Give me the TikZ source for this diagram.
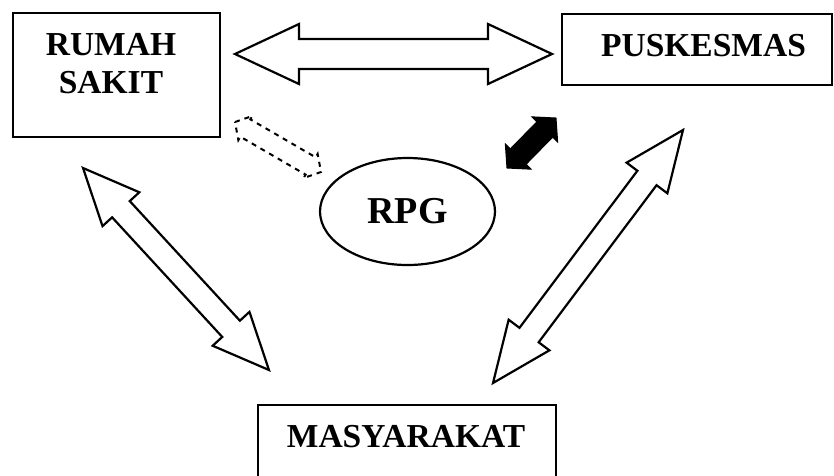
\documentclass[tikz,border=0pt]{standalone}
\usepackage{fontspec}
\setmainfont{Liberation Serif}
\usetikzlibrary{shapes.geometric}
% #1 style, (#2,#3) tip A, (#4,#5) tip B (pixel coords, y down), #6 shaft half width, #7 head half width, #8 head length
\newcommand\blockarrow[8]{%
  \pgfmathsetmacro\ardx{#4-#2}%
  \pgfmathsetmacro\ardy{#3-#5}%
  \pgfmathsetmacro\arlen{veclen(\ardx,\ardy)}%
  \pgfmathsetmacro\arang{atan2(\ardy,\ardx)}%
  \pgfmathsetmacro\arb{\arlen-#8}%
  \draw[#1,shift={(#2pt,-#3pt)},rotate=\arang]
    (0pt,0pt) -- (#8pt,#7pt) -- (#8pt,#6pt) -- (\arb pt,#6pt) -- (\arb pt,#7pt)
    -- (\arlen pt,0pt) -- (\arb pt,-#7pt) -- (\arb pt,-#6pt) -- (#8pt,-#6pt)
    -- (#8pt,-#7pt) -- cycle;}
\tikzset{
  box/.style={draw, line width=2.5pt, inner sep=0pt},
  lbl/.style={font=\fontsize{33.5}{38}\selectfont\bfseries, align=center, inner sep=0pt},
  hollow/.style={draw, line width=2.2pt, fill=white, line join=miter},
  solidarr/.style={draw=black, fill=black, line width=1pt},
  dasharr/.style={draw, line width=2pt, dash pattern=on 5pt off 5pt}
}
\begin{document}
\begin{tikzpicture}[x=1pt,y=-1pt]
\useasboundingbox (0,0) rectangle (834,475);
% boxes
\node[box, minimum width=207pt, minimum height=124pt] (rs) at (116.5,75) {};
\node[lbl] (rstext) at (111,64) {RUMAH\\SAKIT};
\node[box, minimum width=270pt, minimum height=71pt] (pk) at (697,49.5) {};
\node[lbl] (pktext) at (703.5,46) {PUSKESMAS};
\node[box, minimum width=298pt, minimum height=85pt] (ms) at (407,447.5) {};
\node[lbl] (mstext) at (406,436.5) {MASYARAKAT};
\node[ellipse, draw, line width=2.2pt, minimum width=175pt, minimum height=107pt, inner sep=0pt,
      font=\fontsize{38}{40}\selectfont\bfseries] (rpg) at (407.5,211.5) {RPG};
% arrows
\blockarrow{hollow}{235}{54}{552}{54}{15}{30}{64}
\blockarrow{hollow}{83}{168}{269}{370}{12}{25}{56}
\blockarrow{hollow}{683}{130}{493}{383}{12}{25.5}{60}
\blockarrow{solidarr}{507}{168}{556}{118}{11}{18}{16}
\blockarrow{dasharr}{235}{122}{321}{172}{10}{14}{12}
\end{tikzpicture}
\end{document}
